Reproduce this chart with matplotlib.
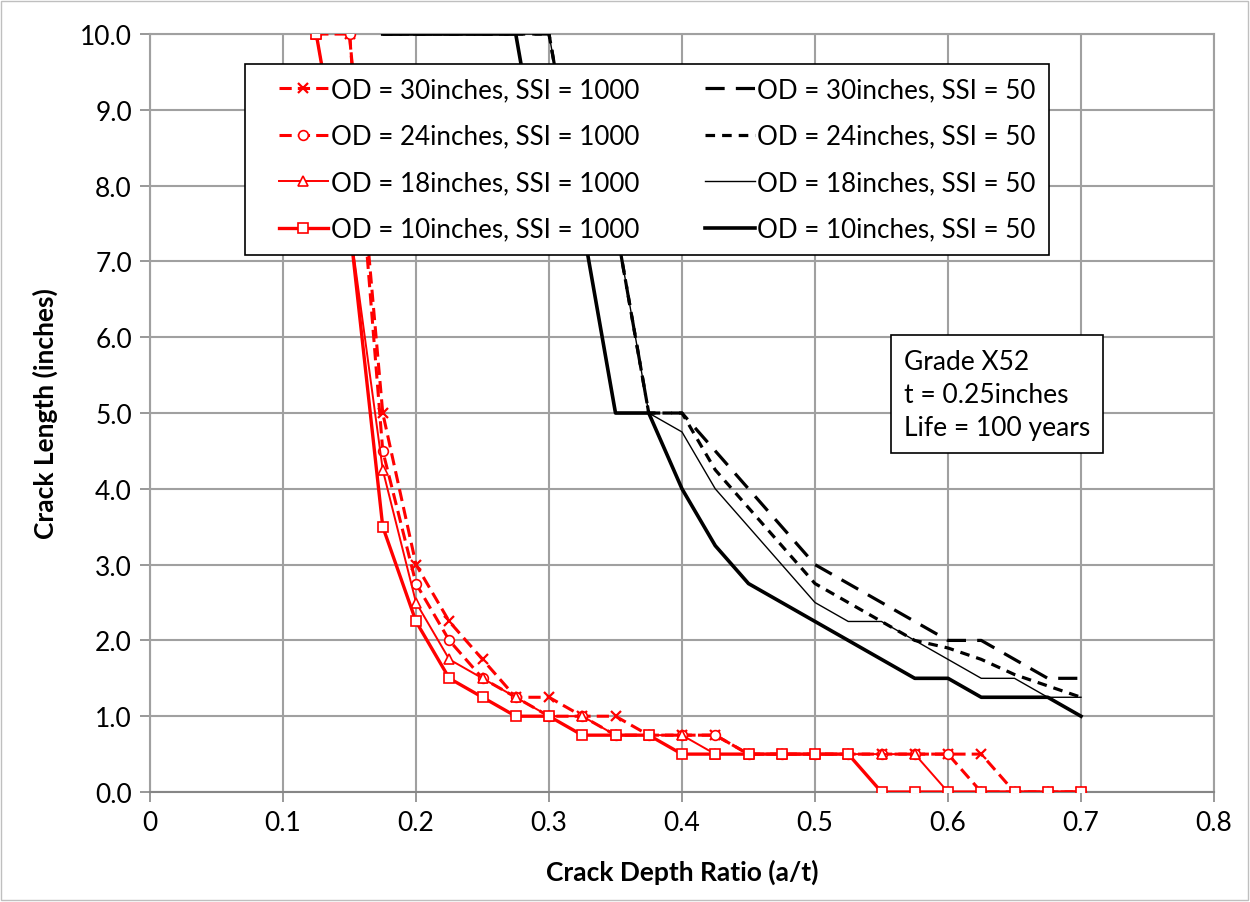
import matplotlib
matplotlib.use("Agg")
import matplotlib.pyplot as plt
import matplotlib.patches as mpatches
from matplotlib.lines import Line2D
from matplotlib.legend_handler import HandlerLine2D

plt.rcParams['font.family'] = ['Lato', 'DejaVu Sans']

# Crack depth ratio (a/t) for each series
x_r30 = [0.15, 0.175, 0.2, 0.225, 0.25, 0.275, 0.3, 0.325, 0.35, 0.375, 0.4, 0.425, 0.45, 0.475,
         0.5, 0.525, 0.55, 0.575, 0.6, 0.625, 0.65, 0.675, 0.7]
y_r30 = [10.0, 5.0, 3.0, 2.25, 1.75, 1.25, 1.25, 1.0, 1.0, 0.75, 0.75, 0.75, 0.5, 0.5,
         0.5, 0.5, 0.5, 0.5, 0.5, 0.5, 0.0, 0.0, 0.0]

x_r24 = [0.125, 0.15, 0.175, 0.2, 0.225, 0.25, 0.275, 0.3, 0.325, 0.35, 0.375, 0.4, 0.425, 0.45, 0.475,
         0.5, 0.525, 0.55, 0.575, 0.6, 0.625, 0.65, 0.675, 0.7]
y_r24 = [10.0, 10.0, 4.5, 2.75, 2.0, 1.5, 1.25, 1.0, 1.0, 0.75, 0.75, 0.75, 0.75, 0.5, 0.5,
         0.5, 0.5, 0.5, 0.5, 0.5, 0.0, 0.0, 0.0, 0.0]

x_r18 = [0.125, 0.15, 0.175, 0.2, 0.225, 0.25, 0.275, 0.3, 0.325, 0.35, 0.375, 0.4, 0.425, 0.45, 0.475,
         0.5, 0.525, 0.55, 0.575, 0.6, 0.625, 0.65, 0.675, 0.7]
y_r18 = [10.0, 7.5, 4.25, 2.5, 1.75, 1.5, 1.25, 1.0, 1.0, 0.75, 0.75, 0.75, 0.5, 0.5, 0.5,
         0.5, 0.5, 0.5, 0.5, 0.0, 0.0, 0.0, 0.0, 0.0]

x_r10 = [0.125, 0.15, 0.175, 0.2, 0.225, 0.25, 0.275, 0.3, 0.325, 0.35, 0.375, 0.4, 0.425, 0.45, 0.475,
         0.5, 0.525, 0.55, 0.575, 0.6, 0.625, 0.65, 0.675, 0.7]
y_r10 = [10.0, 7.5, 3.5, 2.25, 1.5, 1.25, 1.0, 1.0, 0.75, 0.75, 0.75, 0.5, 0.5, 0.5, 0.5,
         0.5, 0.5, 0.0, 0.0, 0.0, 0.0, 0.0, 0.0, 0.0]

x_blk = [0.175, 0.2, 0.225, 0.25, 0.275, 0.3, 0.325, 0.35, 0.375, 0.4, 0.425, 0.45, 0.475,
         0.5, 0.525, 0.55, 0.575, 0.6, 0.625, 0.65, 0.675, 0.7]
y_b30 = [10.0, 10.0, 10.0, 10.0, 10.0, 10.0, 7.5, 7.5, 5.0, 5.0, 4.5, 4.0, 3.5,
         3.0, 2.75, 2.5, 2.25, 2.0, 2.0, 1.75, 1.5, 1.5]
y_b24 = [10.0, 10.0, 10.0, 10.0, 10.0, 10.0, 7.5, 7.5, 5.0, 5.0, 4.25, 3.75, 3.25,
         2.75, 2.5, 2.25, 2.0, 1.9, 1.75, 1.55, 1.4, 1.25]
y_b18 = [10.0, 10.0, 10.0, 10.0, 10.0, 10.0, 7.5, 7.5, 5.0, 4.75, 4.0, 3.5, 3.0,
         2.5, 2.25, 2.25, 2.0, 1.75, 1.5, 1.5, 1.25, 1.25]
y_b10 = [10.0, 10.0, 10.0, 10.0, 10.0, 7.5, 7.5, 5.0, 5.0, 4.0, 3.25, 2.75, 2.5,
         2.25, 2.0, 1.75, 1.5, 1.5, 1.25, 1.25, 1.25, 1.0]

labels = ['OD = 30inches, SSI = 1000', 'OD = 24inches, SSI = 1000',
          'OD = 18inches, SSI = 1000', 'OD = 10inches, SSI = 1000',
          'OD = 30inches, SSI = 50', 'OD = 24inches, SSI = 50',
          'OD = 18inches, SSI = 50', 'OD = 10inches, SSI = 50']

x_ticks = [0, 0.1, 0.2, 0.3, 0.4, 0.5, 0.6, 0.7, 0.8]
x_ticklabels = ['0', '0.1', '0.2', '0.3', '0.4', '0.5', '0.6', '0.7', '0.8']
y_ticks = [0, 1, 2, 3, 4, 5, 6, 7, 8, 9, 10]

note = 'Grade X52\nt = 0.25inches\nLife = 100 years'

fig = plt.figure(figsize=(12.5, 9.03), dpi=100)
ax = fig.add_axes([0.12, 0.1218, 0.8512, 0.8394])

red = '#ff0000'
mk = dict(markerfacecolor='white', markeredgecolor=red, markeredgewidth=1.2)

ax.plot(x_r30, y_r30, color=red, lw=2.2, dashes=(4, 2), marker='x', ms=7, mew=1.6,
        markeredgecolor=red, label=labels[0], zorder=3)
ax.plot(x_r24, y_r24, color=red, lw=2.2, dashes=(4, 2), marker='o', ms=7, label=labels[1], zorder=3, **mk)
ax.plot(x_r18, y_r18, color=red, lw=1.4, marker='^', ms=7, label=labels[2], zorder=3, **mk)
ax.plot(x_r10, y_r10, color=red, lw=2.4, marker='s', ms=7.5, label=labels[3], zorder=3, **mk)

ax.plot(x_blk, y_b30, color='black', lw=2.3, dashes=(6, 3.5), label=labels[4], zorder=3)
ax.plot(x_blk, y_b24, color='black', lw=2.3, dashes=(3, 2.2), label=labels[5], zorder=3)
ax.plot(x_blk, y_b18, color='black', lw=1.0, label=labels[6], zorder=3)
ax.plot(x_blk, y_b10, color='black', lw=2.6, label=labels[7], zorder=3)

ax.set_xlim(0, 0.8)
ax.set_ylim(0, 10)
ax.set_xticks(x_ticks)
ax.set_xticklabels(x_ticklabels)
ax.set_yticks(y_ticks)
ax.set_yticklabels(['%.1f' % v for v in y_ticks])
ax.tick_params(labelsize=19, length=7, width=1.2, color='#868686', pad=6)
ax.grid(True, color='#a0a0a0', lw=1.5)
ax.set_axisbelow(True)
for s in ['top', 'right', 'left']:
    ax.spines[s].set_color('#a0a0a0')
    ax.spines[s].set_linewidth(1.5)
ax.spines['bottom'].set_color('#868686')
ax.spines['bottom'].set_linewidth(1.5)

ax.set_xlabel('Crack Depth Ratio (a/t)', fontsize=19, fontweight='bold', labelpad=17)
ax.set_ylabel('Crack Length (inches)', fontsize=19, fontweight='bold', labelpad=16)

leg = ax.legend(loc='upper left', bbox_to_anchor=(0.0893, 0.9604), borderaxespad=0, ncol=2,
                fontsize=18.7, frameon=True, fancybox=False, edgecolor='black', framealpha=1,
                handlelength=2.7, handletextpad=0.1, columnspacing=1.75, labelspacing=0.83,
                borderpad=0.5, numpoints=1,
                handler_map={Line2D: HandlerLine2D(xpad=0.8)})
leg.get_frame().set_linewidth(1.2)

ax.text(0.7085, 0.585, note, transform=ax.transAxes, fontsize=19, va='top', ha='left',
        linespacing=1.4, zorder=5,
        bbox=dict(boxstyle='square,pad=0.5', facecolor='white', edgecolor='black', lw=1.2))

fig.patches.append(mpatches.Rectangle((0.001, 0.002), 0.997, 0.996, transform=fig.transFigure,
                                      fill=False, edgecolor='#bfbfbf', lw=1))

fig.savefig('out.png', dpi=100)
